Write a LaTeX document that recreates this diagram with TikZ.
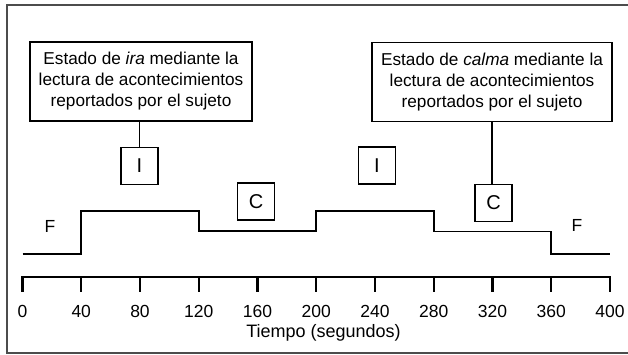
\documentclass[tikz,border=0pt]{standalone}
\usepackage{fontspec}
\setmainfont{Liberation Sans}
\begin{document}
\begin{tikzpicture}[x=1pt,y=-1pt,
  txt/.style={font=\fontsize{17.5}{21}\selectfont, inner sep=0pt, anchor=base},
  bigbox/.style={draw, line width=1.2pt, align=center, font=\fontsize{17.2}{21}\selectfont, inner sep=0pt, minimum height=79pt},
  smallbox/.style={draw, line width=1.2pt, minimum width=37pt, minimum height=37pt, font=\fontsize{20}{21}\selectfont, inner sep=0pt},
  stepline/.style={line width=1.1pt},
  axisline/.style={line width=2.2pt},
  tick/.style={line width=2.2pt}]
\useasboundingbox (0,0) rectangle (628,355);
% frame (open on the right)
\draw[line width=1.3pt, black!70] (628,5) -- (7,5) -- (7,353) -- (628,353);
% text boxes
\node[bigbox, minimum width=222pt] (b1) at (141,81.5) {Estado de \textit{ira} mediante la\\lectura de acontecimientos\\reportados por el sujeto};
\node[bigbox, minimum width=240pt] (b2) at (492,82) {Estado de \textit{calma} mediante la\\lectura de acontecimientos\\reportados por el sujeto};
% small boxes
\node[smallbox] (i1) at (139.5,166) {I};
\node[smallbox] (c1) at (256,201.5) {C};
\node[smallbox] (i2) at (377,165.5) {I};
\node[smallbox] (c2) at (493.5,203) {C};
\draw[line width=1.2pt] (i1.north |- b1.south) -- (i1.north);
\draw[line width=1.2pt] (b2.south) -- (b2.south |- c2.north);
% F labels
\node[txt] (f1) at (50,232) {F};
\node[txt] (f2) at (577,231.5) {F};
% step line
\coordinate (s0) at (22.5,254);
\coordinate (s1) at (81,254);
\coordinate (s2) at (81,211);
\coordinate (s3) at (199,211);
\coordinate (s4) at (199,231);
\coordinate (s5) at (316,231);
\coordinate (s6) at (316,211);
\coordinate (s7) at (434,211);
\coordinate (s8) at (434,231.5);
\coordinate (s9) at (551,231.5);
\coordinate (s10) at (551,254);
\coordinate (s11) at (610,254);
\draw[stepline] (s0) -- (s1) -- (s2) -- (s3) -- (s4) -- (s5) -- (s6) -- (s7) -- (s8) -- (s9) -- (s10) -- (s11);
% axis
\coordinate (a0) at (22.5,277);
\coordinate (a1) at (610,277);
\draw[axisline] (a0) -- (a1);
\foreach \v in {0,40,...,400} {
  \pgfmathsetmacro{\xx}{22.5+\v*1.46875}
  \draw[tick] (\xx,276) -- (\xx,292);
  \node[txt] at (\xx,317.5) {\v};
}
\node[txt, font=\fontsize{18}{21}\selectfont] (lab) at (323.5,337) {Tiempo (segundos)};
\end{tikzpicture}
\end{document}
